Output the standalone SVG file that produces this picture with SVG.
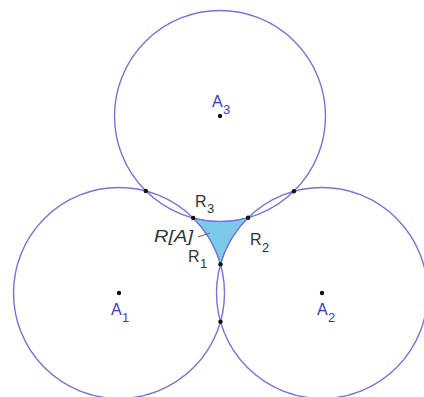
<svg xmlns="http://www.w3.org/2000/svg" width="424" height="397" viewBox="0 0 424 397">
<style>
.circ{fill:none;stroke:#7474dc;stroke-width:1.4}
.pt{fill:#111}
.lblR{font-family:"Liberation Sans",Arial,sans-serif;font-size:16px;fill:#333}
.lblA{font-family:"Liberation Sans",Arial,sans-serif;font-size:16px;fill:#3a3ac8}
.sub{font-size:13px}
.region{fill:#7dc9ea;stroke:#7474dc;stroke-width:1}
.leader{stroke:#666;stroke-width:1;fill:none}
</style>
<rect width="424" height="397" fill="#fff"/>
<g id="region">
<path class="region" d="M193.2,218 A105.5,105.5 0 0 0 248.1,217.7 A105.5,105.5 0 0 0 220.5,264.2 A105.5,105.5 0 0 0 193.2,218 Z"/>
</g>
<g id="circle-A1"><circle class="circ" cx="119" cy="293" r="105.5"/></g>
<g id="circle-A2"><circle class="circ" cx="322" cy="293" r="105.5"/></g>
<g id="circle-A3"><circle class="circ" cx="220" cy="116" r="105.5"/></g>
<g id="connectors">
<line class="leader" x1="198" y1="237" x2="210" y2="233"/>
</g>
<g id="A1"><circle class="pt" cx="119" cy="293" r="2.2"/><text class="lblA" x="111" y="315">A<tspan class="sub" x="122" y="322">1</tspan></text></g>
<g id="A2"><circle class="pt" cx="322" cy="293" r="2.2"/><text class="lblA" x="317" y="315">A<tspan class="sub" x="328" y="322">2</tspan></text></g>
<g id="A3"><circle class="pt" cx="220" cy="116" r="2.2"/><text class="lblA" x="212" y="107">A<tspan class="sub" x="223" y="114">3</tspan></text></g>
<g id="P13"><circle class="pt" cx="145.8" cy="191" r="2.2"/></g>
<g id="P23"><circle class="pt" cx="293.9" cy="191.3" r="2.2"/></g>
<g id="P12"><circle class="pt" cx="220.5" cy="321.8" r="2.2"/></g>
<g id="R1"><circle class="pt" cx="220.5" cy="264.2" r="2.2"/><text class="lblR" x="188" y="262">R<tspan class="sub" x="200" y="268">1</tspan></text></g>
<g id="R2"><circle class="pt" cx="248.1" cy="217.7" r="2.2"/><text class="lblR" x="250" y="245">R<tspan class="sub" x="262" y="252">2</tspan></text></g>
<g id="R3"><circle class="pt" cx="193.2" cy="218" r="2.2"/><text class="lblR" x="195" y="207">R<tspan class="sub" x="207" y="213">3</tspan></text></g>
<g id="RA"><text class="lblR" x="154" y="242" font-style="italic" textLength="39" lengthAdjust="spacingAndGlyphs">R[A]</text></g>
</svg>
